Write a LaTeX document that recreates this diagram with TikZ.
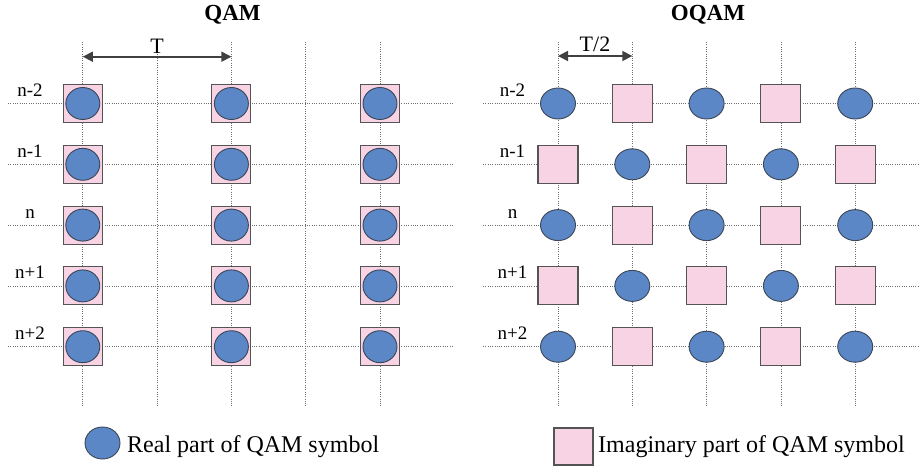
\documentclass[tikz,border=0pt]{standalone}
\usepackage{fontspec}
\setmainfont{Liberation Serif}
\usetikzlibrary{shapes.geometric,arrows.meta}

\definecolor{symblue}{HTML}{5B87C6}
\definecolor{symedge}{HTML}{3B4656}
\definecolor{sympink}{HTML}{F7D3E4}
\definecolor{boxedge}{HTML}{545454}
\definecolor{gridgray}{HTML}{6E6E6E}
\definecolor{arrowgray}{HTML}{404040}

\begin{document}
\begin{tikzpicture}[x=1pt,y=-1pt,
  gridline/.style={gridgray, line width=0.8pt, dash pattern=on 0.8pt off 1.5pt},
  realsym/.style={ellipse, draw=symedge, fill=symblue, line width=0.9pt,
    minimum width=34pt, minimum height=32pt, inner sep=0pt},
  imagsym/.style={rectangle, draw=boxedge, fill=sympink, line width=1.1pt,
    minimum width=39pt, minimum height=38pt, inner sep=0pt},
  rowlabel/.style={font=\fontsize{19}{19}\selectfont, anchor=base, inner sep=0pt},
  paneltitle/.style={font=\fontsize{23}{23}\selectfont\bfseries, anchor=base, inner sep=0pt},
  spanlabel/.style={font=\fontsize{22}{22}\selectfont, anchor=base, inner sep=0pt},
  legendtext/.style={font=\fontsize{24}{24}\selectfont, anchor=base west, inner sep=0pt},
  spanarrow/.style={{Triangle[length=10pt,width=10pt]}-{Triangle[length=10pt,width=10pt]},
    arrowgray, line width=1.6pt},
]
\useasboundingbox (0,0) rectangle (920,471);

% time/frequency grid, QAM panel (left) and OQAM panel (right)
\foreach \k in {0,...,4} {
  \draw[gridline] (8,{103.5+60.8*\k}) -- (454,{103.5+60.8*\k});
  \draw[gridline] (483,{103.5+60.8*\k}) -- (920,{103.5+60.8*\k});
}
\foreach \i in {0,...,4} {
  \draw[gridline] ({82.8+74.3*\i},42) -- ({82.8+74.3*\i},407);
  \draw[gridline] ({558+74.3*\i},42) -- ({558+74.3*\i},407);
}

% titles
\node[paneltitle] (tq) at (232.5,20) {QAM};
\node[paneltitle] (to) at (708,20) {OQAM};

% symbol spacing
\coordinate (ta) at (82.8,56.7);
\coordinate (tb) at (231.4,56.7);
\draw[spanarrow] (ta) -- (tb);
\node[spanlabel] (tlab) at (157,53.5) {T};
\coordinate (ha) at (558,56);
\coordinate (hb) at (632.3,56);
\draw[spanarrow] (ha) -- (hb);
\node[spanlabel] (hlab) at (595,51) {T/2};

% row labels
\foreach \k/\lab in {0/n-2,1/n-1,2/n,3/n+1,4/n+2} {
  \node[rowlabel] (ql\k) at (30,{96.5+60.8*\k}) {\lab};
  \node[rowlabel] (ol\k) at (512.5,{96.5+60.8*\k}) {\lab};
}

% QAM: real and imaginary parts share each time slot
\foreach \i in {0,2,4} {
  \foreach \k in {0,...,4} {
    \node[imagsym] (qi-\i-\k) at ({82.8+74.3*\i},{103.5+60.8*\k}) {};
    \node[realsym] (qr-\i-\k) at (qi-\i-\k.center) {};
  }
}

% OQAM: real and imaginary parts staggered by T/2
\foreach \i in {0,...,4} {
  \foreach \k in {0,...,4} {
    \pgfmathtruncatemacro{\slotparity}{mod(\i+\k,2)}
    \ifnum\slotparity=0
      \node[realsym, minimum width=35pt, minimum height=31pt] (o-\i-\k) at ({558+74.3*\i},{103.5+60.8*\k}) {};
    \else
      \node[imagsym, minimum width=40pt] (o-\i-\k) at ({558+74.3*\i},{103.5+60.8*\k}) {};
    \fi
  }
}

% legend
\node[realsym, minimum width=35pt] (legr) at (102.5,443) {};
\node[legendtext] (legrt) at (127,452) {Real part of QAM symbol};
\node[imagsym, minimum height=37pt] (legi) at (573.5,446.5) {};
\node[legendtext] (legit) at (598,452) {Imaginary part of QAM symbol};
\end{tikzpicture}
\end{document}
